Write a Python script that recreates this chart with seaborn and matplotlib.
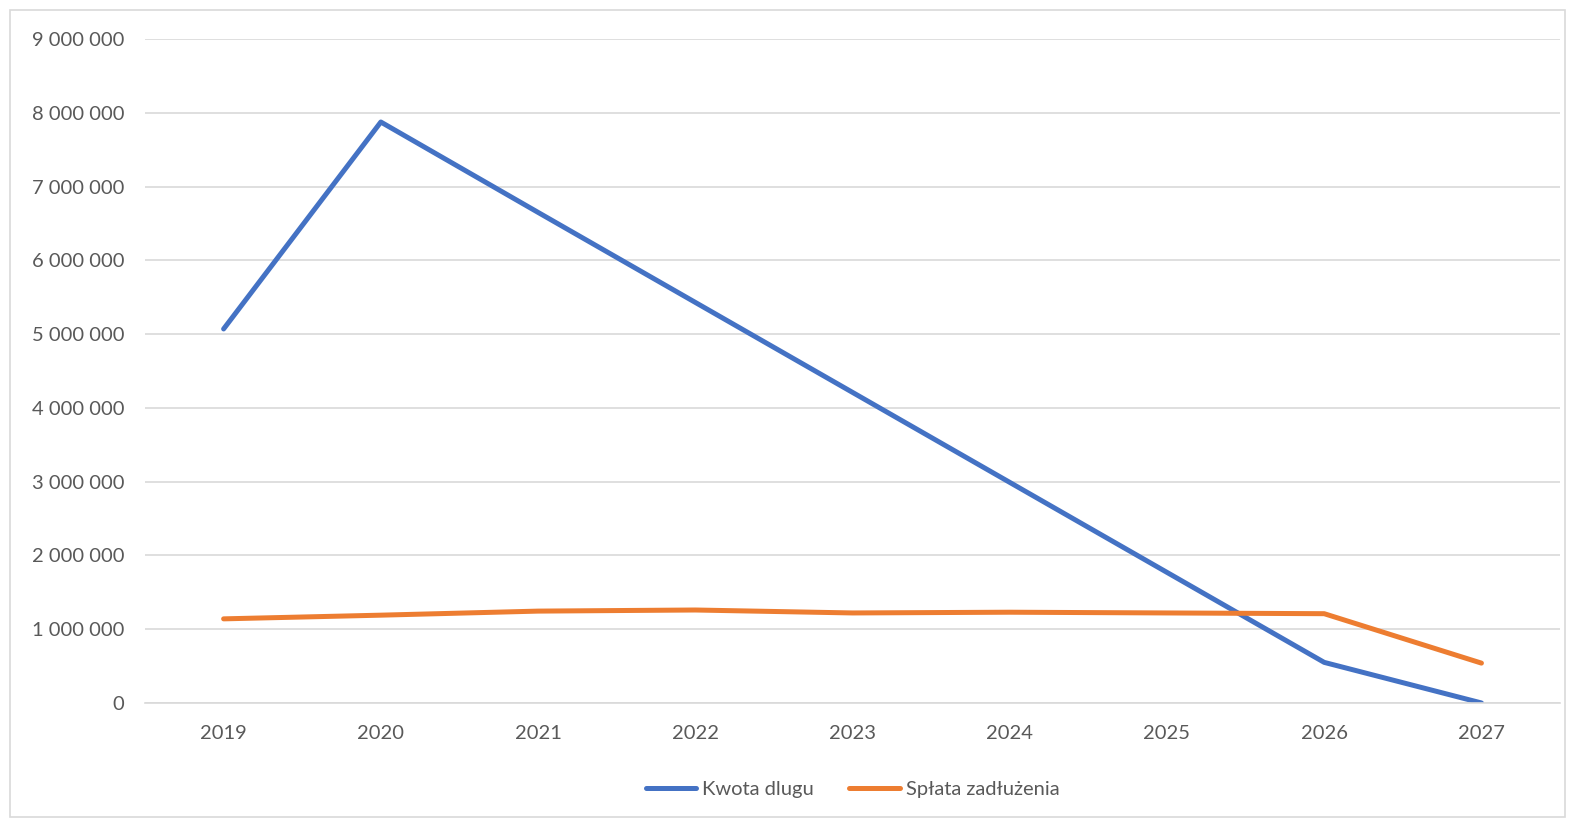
import pandas as pd
import seaborn as sns
import matplotlib.pyplot as plt
from matplotlib.patches import Rectangle
from matplotlib.ticker import FuncFormatter, FixedLocator

# chart values
years = ["2019", "2020", "2021", "2022", "2023", "2024", "2025", "2026", "2027"]
kwota_dlugu = [5070000, 7875000, 6650000, 5430000, 4210000, 2990000, 1770000, 550000, 0]
splata_zadluzenia = [1140000, 1190000, 1245000, 1260000, 1220000, 1230000, 1220000, 1210000, 540000]

series_names = ["Kwota dlugu", "Spłata zadłużenia"]
colors = ["#4472C4", "#ED7D31"]

# long format table for seaborn
df = pd.DataFrame({
    "rok": years * 2,
    "wartosc": kwota_dlugu + splata_zadluzenia,
    "seria": [series_names[0]] * len(years) + [series_names[1]] * len(years),
})

sns.set_style("white")
plt.rcParams["font.family"] = ["Lato", "DejaVu Sans"]

fig = plt.figure(figsize=(15.83, 8.27), dpi=100)
ax = fig.add_axes([0.0916, 0.150, 0.8939, 0.8028])

sns.lineplot(data=df, x="rok", y="wartosc", hue="seria", palette=colors,
             linewidth=3.6, ax=ax, sort=False, solid_capstyle="round")

ax.set_xlim(-0.5, len(years) - 0.5)
ax.set_ylim(0, 9000000)
ax.set_yticks(range(0, 9000001, 1000000))
ax.yaxis.set_major_formatter(FuncFormatter(lambda v, p: f"{int(v):,}".replace(",", " ")))
ax.grid(axis="y", color="#d9d9d9", linewidth=1.2)
ax.set_axisbelow(True)

for s in ["top", "right", "left"]:
    ax.spines[s].set_visible(False)
ax.spines["bottom"].set_color("#d9d9d9")
ax.spines["bottom"].set_linewidth(1.2)

ax.tick_params(axis="y", length=0, labelsize=14.5, labelcolor="#595959", pad=15)
ax.tick_params(axis="x", which="major", length=0, labelsize=14.5, labelcolor="#595959", pad=16)
# small ticks between the categories, like in the original
ax.xaxis.set_minor_locator(FixedLocator([i - 0.5 for i in range(len(years) + 1)]))
ax.tick_params(axis="x", which="minor", length=6, color="#d9d9d9", width=1.2)
ax.set_xlabel("")
ax.set_ylabel("")

ax.legend(loc="upper center", bbox_to_anchor=(0.5, -0.09), ncol=2, frameon=False,
          fontsize=14.5, labelcolor="#595959", handlelength=2.5, handletextpad=0.3,
          columnspacing=1.75)

# light frame around the whole chart
fig.patches.append(Rectangle((10 / 1583, 10 / 827), 1555 / 1583, 807 / 827,
                             transform=fig.transFigure, fill=False,
                             edgecolor="#d9d9d9", linewidth=1.2))

plt.savefig("out.png", dpi=100)
